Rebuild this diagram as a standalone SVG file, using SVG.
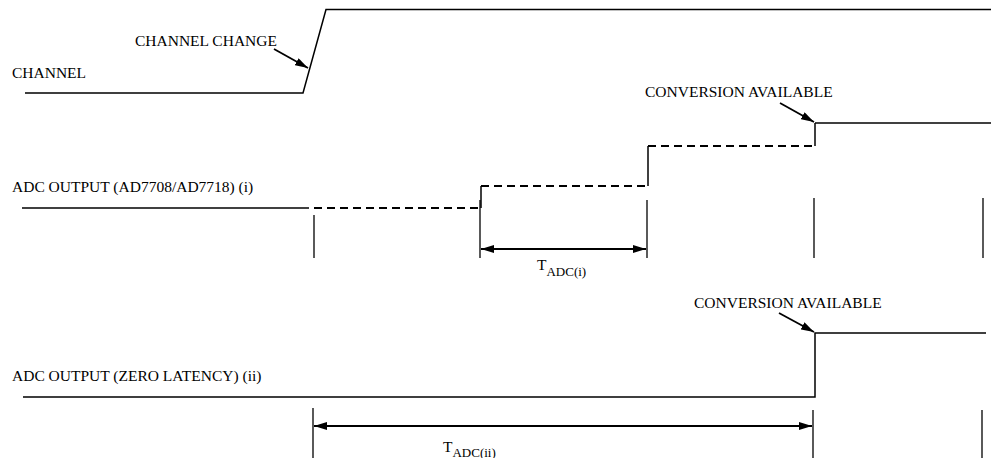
<svg xmlns="http://www.w3.org/2000/svg" width="991" height="458" viewBox="0 0 991 458">
<defs>
<style>
text{font-family:"Liberation Serif","Times New Roman",serif;font-size:15.5px;fill:#000}
.sub{font-size:13px}
.w{fill:none;stroke:#000;stroke-width:1.5}
.d{fill:none;stroke:#000;stroke-width:1.8;stroke-dasharray:8,5}
.t{fill:none;stroke:#000;stroke-width:1.3}
.a{fill:none;stroke:#000;stroke-width:1.8}
</style>
<marker id="ah" viewBox="0 0 13 8" refX="13" refY="4" markerWidth="13" markerHeight="8" markerUnits="userSpaceOnUse" orient="auto">
<path d="M0,0 L13,4 L0,8 Z" fill="#000"/>
</marker>
<marker id="ahs" viewBox="0 0 13 8" refX="13" refY="4" markerWidth="13" markerHeight="8" markerUnits="userSpaceOnUse" orient="auto-start-reverse">
<path d="M0,0 L13,4 L0,8 Z" fill="#000"/>
</marker>
</defs>
<g id="channel">
<polyline class="w" points="25,93 303,93 326,9.5 991,9.5"/>
<text x="12" y="78">CHANNEL</text>
<text x="135" y="46">CHANNEL CHANGE</text>
</g>
<g id="adc-i">
<text x="12" y="192">ADC OUTPUT (AD7708/AD7718) (i)</text>
<line class="w" x1="22" y1="208" x2="309" y2="208"/>
<line class="d" x1="314" y1="208" x2="481" y2="208"/>
<line class="w" x1="481" y1="208" x2="481" y2="186"/>
<line class="d" x1="481" y1="186" x2="648" y2="186"/>
<line class="w" x1="648" y1="186" x2="648" y2="146"/>
<line class="d" x1="648" y1="146" x2="815" y2="146"/>
<line class="w" x1="815" y1="146" x2="815" y2="123"/>
<line class="w" x1="815" y1="123" x2="991" y2="123"/>
<text x="645" y="97">CONVERSION AVAILABLE</text>
</g>
<g id="ticks-i">
<line class="t" x1="314" y1="215" x2="314" y2="258"/>
<line class="t" x1="480" y1="200" x2="480" y2="258"/>
<line class="t" x1="647" y1="200" x2="647" y2="258"/>
<line class="t" x1="814" y1="198" x2="814" y2="258"/>
<line class="t" x1="983" y1="198" x2="983" y2="258"/>
</g>
<g id="tadc-i-label">
<text x="537" y="270">T<tspan class="sub" dy="6">ADC(i)</tspan></text>
</g>
<g id="adc-ii">
<text x="12" y="381">ADC OUTPUT (ZERO LATENCY) (ii)</text>
<polyline class="w" points="23,397 815,397 815,333 986,333"/>
<text x="694" y="308">CONVERSION AVAILABLE</text>
</g>
<g id="ticks-ii">
<line class="t" x1="313" y1="408" x2="313" y2="458"/>
<line class="t" x1="813" y1="410" x2="813" y2="458"/>
<line class="t" x1="982" y1="410" x2="982" y2="458"/>
</g>
<g id="tadc-ii-label">
<text x="443" y="452">T<tspan class="sub" dy="5">ADC(ii)</tspan></text>
</g>
<g id="connectors">
<line class="a" x1="274" y1="49" x2="308" y2="68" marker-end="url(#ah)"/>
<line class="a" x1="780" y1="103" x2="814" y2="122" marker-end="url(#ah)"/>
<line class="a" x1="779" y1="313" x2="814" y2="332" marker-end="url(#ah)"/>
<line class="a" x1="481" y1="249" x2="646" y2="249" marker-start="url(#ahs)" marker-end="url(#ah)"/>
<line class="a" x1="314" y1="426" x2="812" y2="426" marker-start="url(#ahs)" marker-end="url(#ah)"/>
</g>
</svg>
